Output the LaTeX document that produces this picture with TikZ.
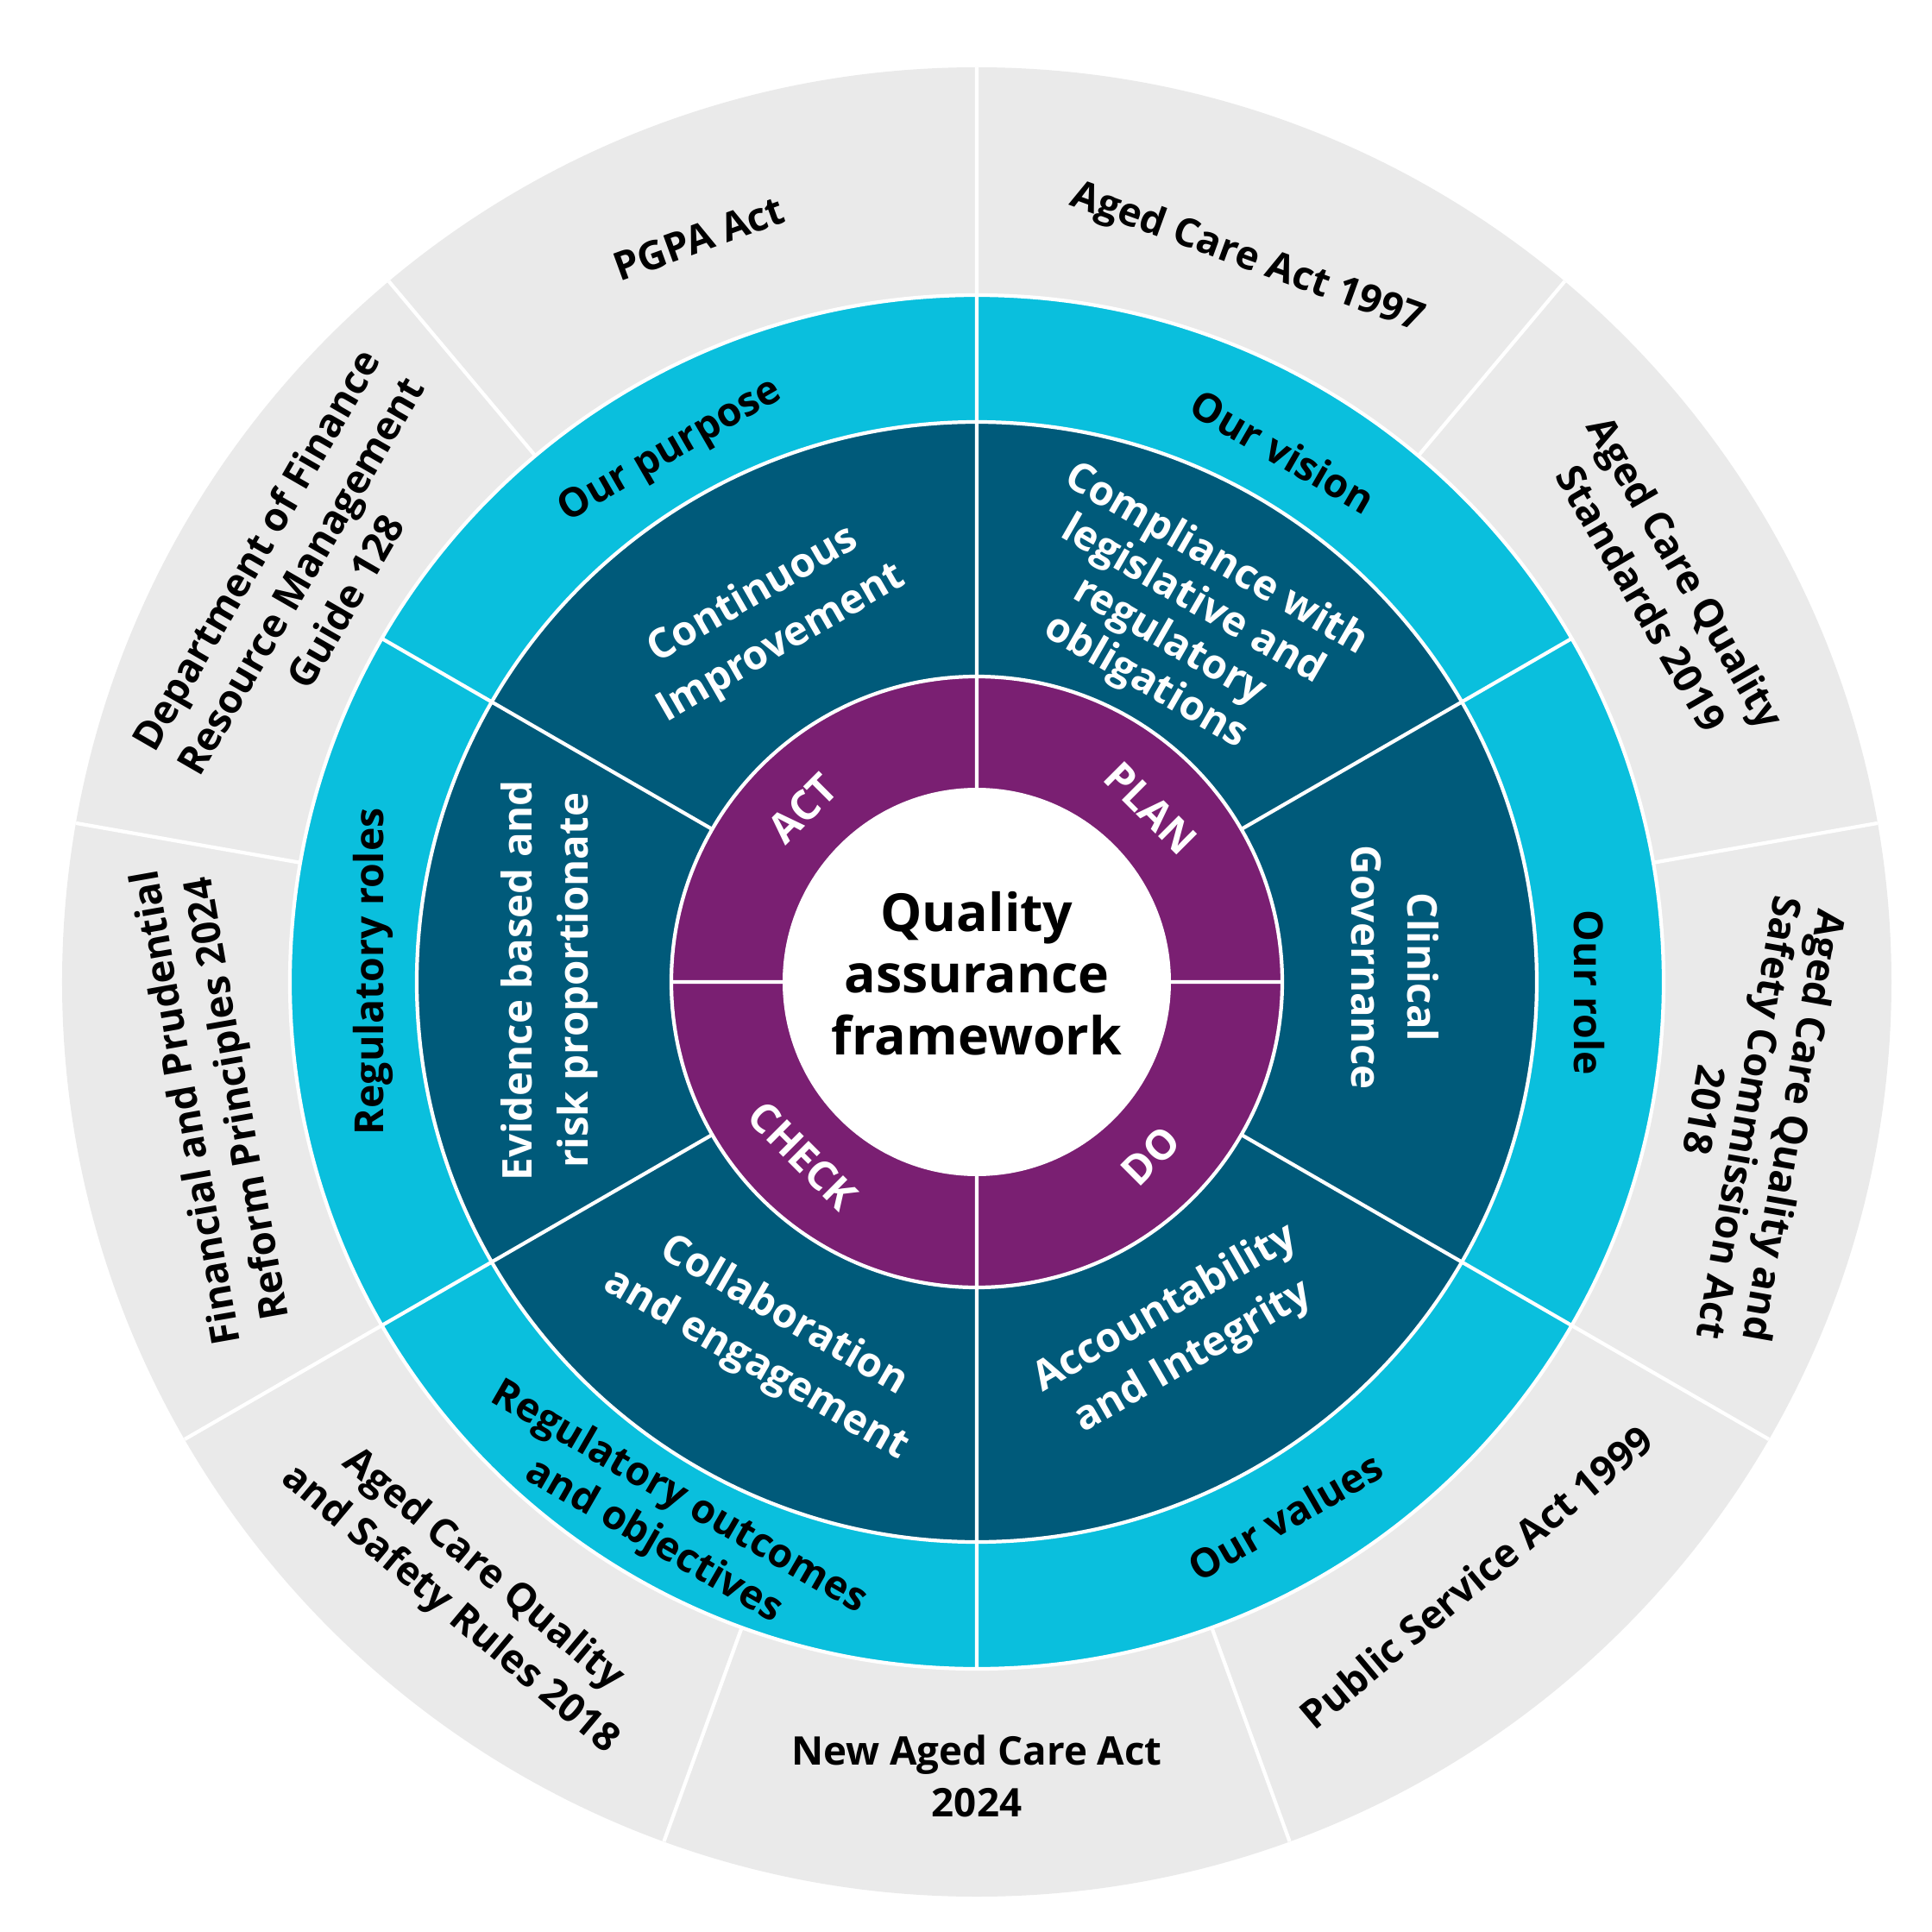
\documentclass[tikz,border=0pt]{standalone}
\usepackage{fontspec}
\setmainfont{Open Sans}
\definecolor{ringgrey}{HTML}{EAEAEA}
\definecolor{ringcyan}{HTML}{0ABFDD}
\definecolor{ringblue}{HTML}{005A7A}
\definecolor{ringpurple}{HTML}{7A1F72}

\begin{document}
\begin{tikzpicture}[
    law/.style={align=center,font=\fontsize{13}{17}\selectfont\bfseries},
    aim/.style={align=center,font=\fontsize{13.2}{16.5}\selectfont\bfseries},
    principle/.style={align=center,text=white,font=\fontsize{13.5}{18.5}\selectfont\bfseries},
    phase/.style={text=white,font=\fontsize{13.5}{16}\selectfont\bfseries},
    hubtext/.style={align=center,font=\fontsize{17.3}{20.3}\selectfont\bfseries},
    divider/.style={draw=white,line width=1.2pt}]
    \useasboundingbox (-11.32,-11.01) rectangle (11.07,11.38);
    % rings
    \fill[ringgrey]   (0,0) circle (10.6);
    \fill[ringcyan]   (0,0) circle (7.96);
    \fill[ringblue]   (0,0) circle (6.49);
    \fill[ringpurple] (0,0) circle (3.54);
    \draw[divider] (0,0) circle (7.96) circle (6.49) circle (3.54);
    \fill[white] (0,0) circle (2.25);
    \path[divider]
    % legislation
    (10:7.96) -- (10:10.6)   (50:7.96) -- (50:10.6)   (90:7.96) -- (90:10.6)
    (130:7.96) -- (130:10.6) (170:7.96) -- (170:10.6) (210:7.96) -- (210:10.6)
    (250:7.96) -- (250:10.6) (290:7.96) -- (290:10.6) (330:7.96) -- (330:10.6)
    % aims and principles
    (30:3.54) -- (30:7.96)   (90:3.54) -- (90:7.96)   (150:3.54) -- (150:7.96)
    (210:3.54) -- (210:7.96) (270:3.54) -- (270:7.96) (330:3.54) -- (330:7.96)
    % cycle
    (0:2.25) -- (0:3.54)     (90:2.25) -- (90:3.54)
    (180:2.25) -- (180:3.54) (270:2.25) -- (270:3.54);

    \node[hubtext] (hub) at (0,0.1) {Quality\\assurance\\framework};

    % cycle
    \node[phase,rotate=-45] (plan)  at (45:2.85)  {PLAN};
    \node[phase,rotate=45]  (do)    at (315:2.85) {DO};
    \node[phase,rotate=-45] (check) at (225:2.85) {CHECK};
    \node[phase,rotate=45]  (act)   at (135:2.85) {ACT};

    % principles
    \node[principle,rotate=30]  (improve)  at (120:4.85)  {Continuous\\Improvement};
    \node[principle,rotate=-30,font=\fontsize{13.5}{15.5}\selectfont\bfseries]
                                (comply)   at (60.5:4.8)  {Compliance with\\legislative and\\regulatory\\obligations};
    \node[principle,rotate=-90] (clinical) at (2:4.85)    {Clinical\\Governance};
    \node[principle,rotate=30]  (account)  at (300:4.7)   {Accountability\\and Integrity};
    \node[principle,rotate=-30] (collab)   at (240:4.8)   {Collaboration\\and engagement};
    \node[principle,rotate=90]  (evidence) at (179.8:4.95) {Evidence based and\\risk proportionate};

    % aims
    \node[aim,rotate=30]  (purpose)  at (120:7.1)  {Our purpose};
    \node[aim,rotate=-30] (vision)   at (60:7.1)   {Our vision};
    \node[aim,rotate=-90] (role)     at (359:7.1)  {Our role};
    \node[aim,rotate=30]  (values)   at (300:7.15) {Our values};
    \node[aim,rotate=-30] (outcomes) at (240:7.2)  {Regulatory outcomes\\and objectives};
    \node[aim,rotate=90]  (regroles) at (179:7.0)  {Regulatory roles};

    % legislation
    \node[law,rotate=20]   (pgpa)   at (110.5:9.2) {PGPA Act};
    \node[law,rotate=-20]  (act97)  at (69.5:8.95) {Aged Care Act 1997};
    \node[law,rotate=-60]  (stds)   at (30:9.2)    {Aged Care Quality\\Standards 2019};
    \node[law,rotate=-100,font=\fontsize{13}{15}\selectfont\bfseries]
                           (acqsc)  at (350:9.1)   {Aged Care Quality and\\Safety Commission Act\\2018};
    \node[law,rotate=40]   (psa)    at (310:9.0)   {Public Service Act 1999};
    \node[law]             (newact) at (270:9.2)   {New Aged Care Act\\2024};
    \node[law,rotate=-40]  (rules)  at (230:9.2)   {Aged Care Quality\\and Safety Rules 2018};
    \node[law,rotate=100]  (fpr)    at (189:8.95)  {Financial and Prudential\\Reform Principles 2024};
    \node[law,rotate=60]   (dof)    at (149:9.15)  {Department of Finance\\Resource Management\\Guide 128};
\end{tikzpicture}
\end{document}
